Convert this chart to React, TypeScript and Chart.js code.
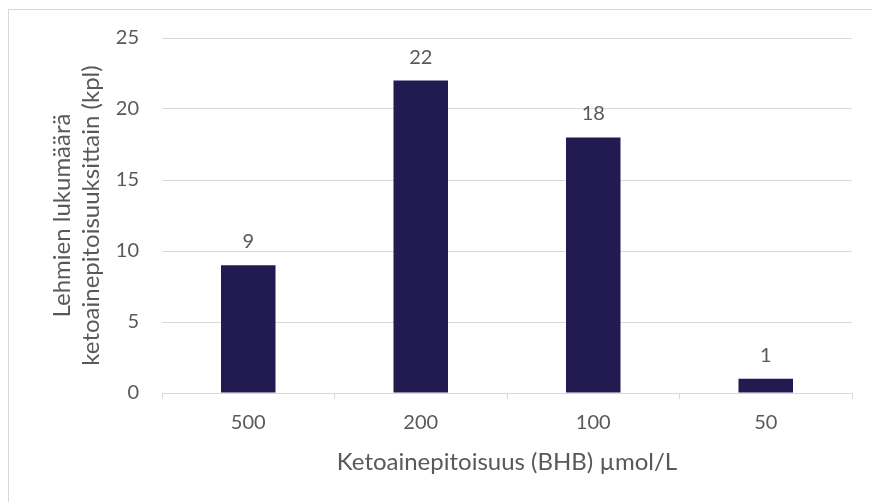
import React, { useEffect, useRef } from "react";
import { Chart, registerables } from "chart.js";

Chart.register(...registerables);

// Concentration classes (µmol/L) and number of cows in each
const concentrations = ["500", "200", "100", "50"];
const cowCounts = [9, 22, 18, 1];
const yTicks = [0, 5, 10, 15, 20, 25];

const xTitle = "Ketoainepitoisuus (BHB) µmol/L";
const yTitle = ["Lehmien lukumäärä", "ketoainepitoisuuksittain (kpl)"];

const FONT = "Lato, 'Open Sans', sans-serif";
const TEXT = "#595959";
const GRID = "#d9d9d9";
const BAR = "#221B51";

// Writes each bar's value just above it
const valueLabels = {
  id: "valueLabels",
  afterDatasetsDraw(chart: any) {
    const { ctx } = chart;
    const meta = chart.getDatasetMeta(0);
    const data = chart.data.datasets[0].data as number[];
    ctx.save();
    ctx.font = `20px ${FONT}`;
    ctx.fillStyle = TEXT;
    ctx.textAlign = "center";
    ctx.textBaseline = "alphabetic";
    meta.data.forEach((el: any, i: number) => {
      ctx.fillText(String(data[i]), el.x, el.y - 17);
    });
    ctx.restore();
  },
};

// Axis titles: horizontal one under the category labels, two-line rotated one on the left
const axisTitles = {
  id: "axisTitles",
  afterDraw(chart: any) {
    const { ctx, chartArea } = chart;
    const midX = (chartArea.left + chartArea.right) / 2;
    const midY = (chartArea.top + chartArea.bottom) / 2;
    ctx.save();
    ctx.font = `24px ${FONT}`;
    ctx.fillStyle = TEXT;
    ctx.textAlign = "center";
    ctx.textBaseline = "alphabetic";
    ctx.fillText(xTitle, midX, chartArea.bottom + 77);
    yTitle.forEach((line, i) => {
      ctx.save();
      ctx.translate(70 + i * 29, midY);
      ctx.rotate(-Math.PI / 2);
      ctx.fillText(line, 0, 0);
      ctx.restore();
    });
    ctx.restore();
  },
};

export default function App() {
  const canvasRef = useRef<HTMLCanvasElement | null>(null);

  useEffect(() => {
    if (!canvasRef.current) return;
    const chart = new Chart(canvasRef.current, {
      type: "bar",
      data: {
        labels: concentrations,
        datasets: [
          {
            data: cowCounts,
            backgroundColor: BAR,
            borderWidth: 0,
            categoryPercentage: 1,
            barPercentage: 0.316,
          },
        ],
      },
      options: {
        animation: false,
        responsive: false,
        devicePixelRatio: 1,
        layout: { padding: { left: 0, top: 38, right: 20, bottom: 0 } },
        plugins: {
          legend: { display: false },
          tooltip: { enabled: false },
        },
        scales: {
          x: {
            afterFit: (scale: any) => {
              scale.height = 109;
            },
            grid: {
              offset: true,
              drawOnChartArea: false,
              drawTicks: true,
              tickLength: 6,
              color: GRID,
            },
            border: { display: true, color: GRID, width: 1 },
            ticks: {
              color: TEXT,
              font: { family: FONT, size: 20 },
              padding: 12,
            },
            title: { display: false },
          },
          y: {
            min: 0,
            max: 25,
            afterFit: (scale: any) => {
              scale.width = 162;
            },
            afterBuildTicks: (scale: any) => {
              scale.ticks = yTicks.map((v) => ({ value: v }));
            },
            grid: { color: GRID, drawTicks: false },
            border: { display: false },
            ticks: {
              color: TEXT,
              font: { family: FONT, size: 20 },
              padding: 23,
            },
            title: { display: false },
          },
        },
      },
      plugins: [valueLabels, axisTitles],
    });
    return () => chart.destroy();
  }, []);

  return (
    <div
      style={{
        position: "absolute",
        left: 0,
        top: 0,
        width: 872,
        height: 502,
        overflow: "hidden",
        background: "#ffffff",
      }}
    >
      <div
        style={{
          position: "absolute",
          left: 8,
          top: 9,
          width: 900,
          height: 520,
          border: `1px solid ${GRID}`,
          boxSizing: "border-box",
        }}
      />
      <canvas
        ref={canvasRef}
        width={872}
        height={502}
        style={{ position: "absolute", left: 0, top: 0, width: 872, height: 502 }}
      />
    </div>
  );
}
